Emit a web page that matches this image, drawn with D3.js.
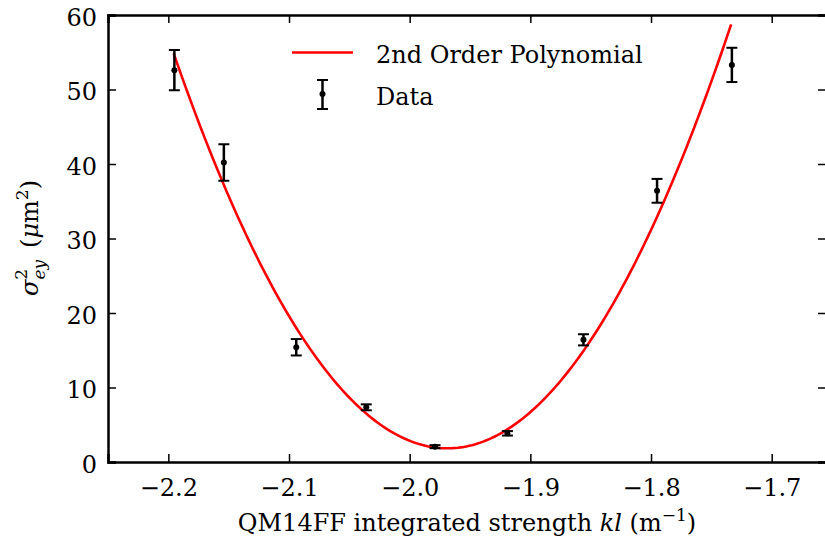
<!DOCTYPE html>
<html><head><meta charset="utf-8">
<script src="https://cdn.jsdelivr.net/npm/d3@7"></script>
<style>
html,body{margin:0;padding:0;background:#fff;}
svg{display:block;font-family:"DejaVu Serif",serif;}
</style></head>
<body>
<script>
// ---- data ----
const strengthKL = [-2.195, -2.154, -2.094, -2.036, -1.979, -1.919, -1.856, -1.795, -1.733];
const sigma2ey   = [52.6, 40.2, 15.4, 7.34, 2.06, 3.85, 16.4, 36.4, 53.3];
const sigma2err  = [2.7, 2.45, 1.1, 0.4, 0.2, 0.3, 0.75, 1.6, 2.3];
// 2nd order polynomial fit  y = a*(x - x0)^2 + c
const fitA = 1029.6, fitX0 = -1.9687, fitC = 1.84;
const fitRange = [-2.1956, -1.7336];
const xTicks = [-2.2, -2.1, -2.0, -1.9, -1.8, -1.7];
const yTicks = [0, 10, 20, 30, 40, 50, 60];
const legendLabels = ["2nd Order Polynomial", "Data"];

const W = 825, H = 538;
const svg = d3.select("body").append("svg").attr("width", W).attr("height", H);

const x = d3.scaleLinear().domain([-2.25, -1.655]).range([108, 826]);
const y = d3.scaleLinear().domain([0, 60]).range([462, 15]);

const fmt = v => (v < 0 ? "\u2212" : "") + Math.abs(v).toFixed(1);

// fit curve
const poly = v => fitA * (v - fitX0) * (v - fitX0) + fitC;
const nS = 200;
const fitPts = d3.range(nS + 1).map(i => {
  const xv = fitRange[0] + (fitRange[1] - fitRange[0]) * i / nS;
  return [xv, poly(xv)];
});
svg.append("path").datum(fitPts)
  .attr("fill", "none").attr("stroke", "#ff0000").attr("stroke-width", 2.6)
  .attr("d", d3.line().x(d => x(d[0])).y(d => y(d[1])));

// error bars
const data = strengthKL.map((k, i) => ({x: k, y: sigma2ey[i], e: sigma2err[i]}));
const eb = svg.append("g").selectAll("g").data(data).join("g");
eb.append("line").attr("x1", d => x(d.x)).attr("x2", d => x(d.x))
  .attr("y1", d => y(d.y - d.e)).attr("y2", d => y(d.y + d.e))
  .attr("stroke", "#000").attr("stroke-width", 2.5);
[-1, 1].forEach(s => {
  eb.append("line").attr("x1", d => x(d.x) - 5.5).attr("x2", d => x(d.x) + 5.5)
    .attr("y1", d => y(d.y + s * d.e)).attr("y2", d => y(d.y + s * d.e))
    .attr("stroke", "#000").attr("stroke-width", 2);
});
eb.append("circle").attr("cx", d => x(d.x)).attr("cy", d => y(d.y)).attr("r", 3).attr("fill", "#000");

// axes (ticks inward, on all four sides)
const tl = 8;
const axB = svg.append("g").attr("transform", "translate(0,462)")
  .call(d3.axisBottom(x).tickValues(xTicks).tickSize(-tl).tickPadding(17).tickFormat(fmt));
const axT = svg.append("g").attr("transform", "translate(0,15)")
  .call(d3.axisTop(x).tickValues(xTicks).tickSize(-tl).tickFormat(""));
const axL = svg.append("g").attr("transform", "translate(108,0)")
  .call(d3.axisLeft(y).tickValues(yTicks).tickSize(-tl).tickPadding(11).tickFormat(d3.format("d")));
const axR = svg.append("g").attr("transform", "translate(826,0)")
  .call(d3.axisRight(y).tickValues(yTicks).tickSize(-tl).tickFormat(""));
[axB, axT, axL, axR].forEach(a => {
  a.select(".domain").attr("stroke", "#000").attr("stroke-width", 2.5);
  a.selectAll(".tick line").attr("stroke", "#000").attr("stroke-width", 1.5);
  a.selectAll(".tick text").attr("fill", "#000").attr("font-size", 24)
    .attr("font-family", "DejaVu Serif");
});
axL.selectAll(".tick text").attr("dy", "0.42em");
axB.selectAll(".tick text").attr("dy", "0.71em");

// x label
const xl = svg.append("text").attr("x", 467).attr("y", 531).attr("text-anchor", "middle")
  .attr("font-size", 24).attr("fill", "#000");
xl.append("tspan").text("QM14FF integrated strength ");
xl.append("tspan").attr("font-style", "italic").text("kl");
xl.append("tspan").text(" (m");
xl.append("tspan").attr("font-size", 17).attr("dy", -10).text("\u22121");
xl.append("tspan").attr("dy", 10).text(")");

// y label
const yl = svg.append("text").attr("transform", "translate(38,238) rotate(-90)")
  .attr("text-anchor", "middle").attr("font-size", 24).attr("fill", "#000");
yl.append("tspan").attr("font-style", "italic").text("\u03c3");
yl.append("tspan").attr("font-size", 17).attr("dy", -11).text("2");
yl.append("tspan").attr("font-size", 17).attr("font-style", "italic").attr("dx", -10.8).attr("dy", 18).text("ey");
yl.append("tspan").attr("dy", -7).text("\u2002(");
yl.append("tspan").attr("font-style", "italic").text("\u03bc");
yl.append("tspan").text("m");
yl.append("tspan").attr("font-size", 17).attr("dy", -10).text("2");
yl.append("tspan").attr("dy", 10).text(")");

// legend
const lg = svg.append("g");
lg.append("line").attr("x1", 292).attr("x2", 353).attr("y1", 52.5).attr("y2", 52.5)
  .attr("stroke", "#ff0000").attr("stroke-width", 2.6);
lg.append("text").attr("x", 376).attr("y", 63).attr("font-size", 24).attr("fill", "#000").text(legendLabels[0]);
lg.append("line").attr("x1", 322.5).attr("x2", 322.5).attr("y1", 80).attr("y2", 109)
  .attr("stroke", "#000").attr("stroke-width", 2.5);
[80, 109].forEach(v => lg.append("line").attr("x1", 317).attr("x2", 328).attr("y1", v).attr("y2", v)
  .attr("stroke", "#000").attr("stroke-width", 2));
lg.append("circle").attr("cx", 322.5).attr("cy", 94).attr("r", 3).attr("fill", "#000");
lg.append("text").attr("x", 376).attr("y", 105).attr("font-size", 24).attr("fill", "#000").text(legendLabels[1]);
</script>
</body></html>
